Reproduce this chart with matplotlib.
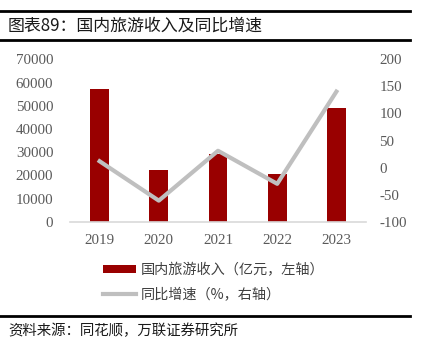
import matplotlib
matplotlib.use("Agg")
import matplotlib.pyplot as plt
from matplotlib.lines import Line2D
from matplotlib.patches import Patch

plt.rcParams["axes.unicode_minus"] = False

years = ["2019", "2020", "2021", "2022", "2023"]
revenue = [57251, 22286, 29191, 20444, 49133]
growth = [11.7, -61.1, 31.0, -30.0, 140.3]
left_ticks = [0, 10000, 20000, 30000, 40000, 50000, 60000, 70000]
right_ticks = [-100, -50, 0, 50, 100, 150, 200]

title = "图表89：国内旅游收入及同比增速"
source = "资料来源：同花顺，万联证券研究所"
label_bar = "国内旅游收入（亿元，左轴）"
label_line = "同比增速（%，右轴）"

W, H = 421, 354
fig = plt.figure(figsize=(W / 100, H / 100), dpi=100)
cjk = ["Noto Sans CJK SC", "DejaVu Sans"]
serif = "Liberation Serif"
tick_color = "#595959"

ax = fig.add_axes([70 / W, 1 - 221.7 / H, 296 / W, (221.7 - 59.3) / H])
x = list(range(len(years)))
ax.bar(x, revenue, width=0.32, color="#990000", zorder=2)
ax.set_xlim(-0.5, len(years) - 0.5)
ax.set_ylim(0, 70000)
ax.set_yticks(left_ticks)
ax.set_xticks(x)
ax.set_xticklabels(years)
for s in ["top", "right", "left"]:
    ax.spines[s].set_visible(False)
ax.spines["bottom"].set_color("#D9D9D9")
ax.spines["bottom"].set_linewidth(1.2)
ax.tick_params(axis="both", length=0, labelsize=10.8, labelcolor=tick_color)
ax.tick_params(axis="y", pad=12)
ax.tick_params(axis="x", pad=9)
for lab in ax.get_xticklabels() + ax.get_yticklabels():
    lab.set_fontfamily(serif)

ax2 = ax.twinx()
ax2.plot(x, growth, color="#BFBFBF", linewidth=3, zorder=3)
ax2.set_ylim(-100, 200)
ax2.set_yticks(right_ticks)
for s in ["top", "right", "left", "bottom"]:
    ax2.spines[s].set_visible(False)
ax2.tick_params(axis="y", length=0, labelsize=10.8, labelcolor=tick_color, pad=9.5)
for lab in ax2.get_yticklabels():
    lab.set_fontfamily(serif)

# header / footer lines
fig.add_artist(Line2D([0, 410 / W], [1 - 11 / H, 1 - 11 / H], color="black", linewidth=2))
fig.add_artist(Line2D([0, 410 / W], [1 - 40 / H, 1 - 40 / H], color="black", linewidth=2))
fig.add_artist(Line2D([0, 410 / W], [1 - 316 / H, 1 - 316 / H], color="black", linewidth=2))

fig.text(8 / W, 1 - 26 / H, title, family=cjk, fontsize=12.2, color="#1a1a1a", va="center", ha="left")
fig.text(8 / W, 1 - 331 / H, source, family=cjk, fontsize=10.4, color="#1a1a1a",
         va="center", ha="left", style="italic")

handles = [Patch(facecolor="#990000", edgecolor="none"),
           Line2D([0], [0], color="#BFBFBF", linewidth=3)]
leg = fig.legend(handles, [label_bar, label_line], loc="center left",
                 bbox_to_anchor=(103 / W, 1 - 282.5 / H), frameon=False,
                 prop={"family": cjk, "size": 10.2}, handlelength=2.3,
                 handleheight=0.5, handletextpad=0.4, labelspacing=0.75,
                 borderpad=0, borderaxespad=0)
for t in leg.get_texts():
    t.set_color("#404040")

fig.savefig("out.png", dpi=100)
